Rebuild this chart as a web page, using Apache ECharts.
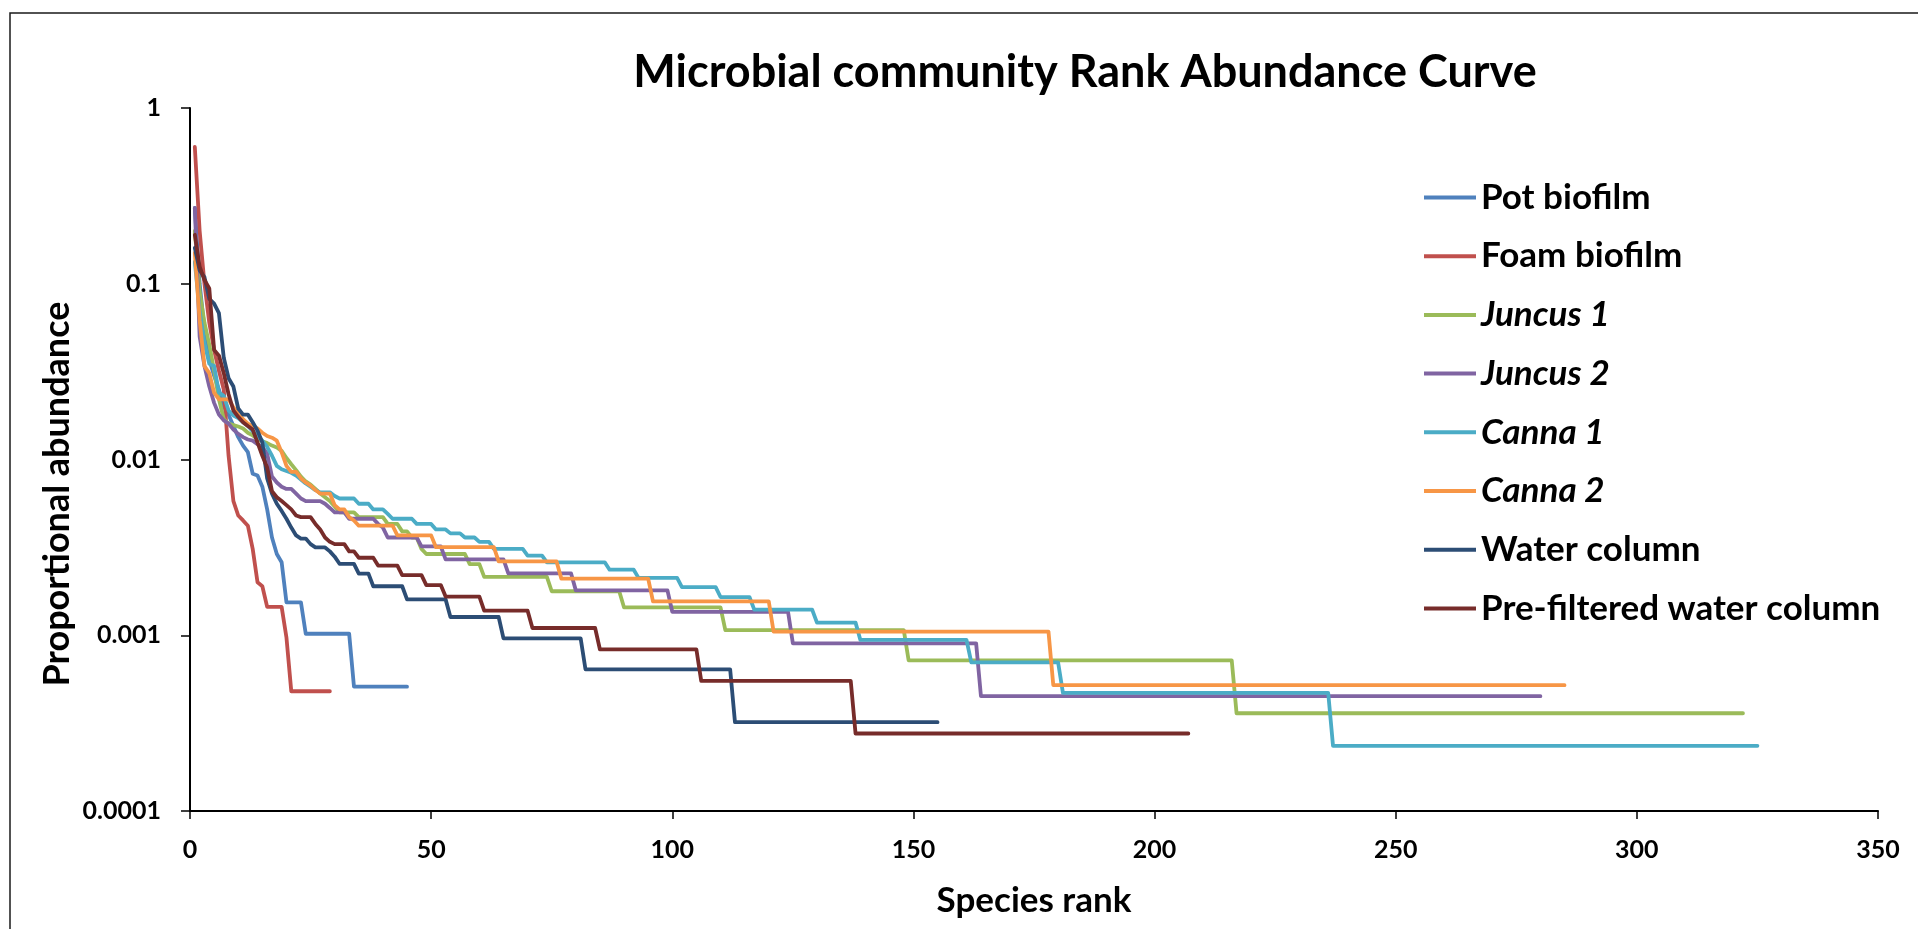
<!DOCTYPE html>
<html>
<head>
<meta charset="utf-8">
<title>Microbial community Rank Abundance Curve</title>
<script src="https://cdn.jsdelivr.net/npm/echarts@6/dist/echarts.min.js"></script>
<style>
  html, body { margin: 0; padding: 0; background: #ffffff; }
  #chart { width: 1918px; height: 929px; }
</style>
</head>
<body>
<div id="chart"></div>
<script>
// ---- Text ----
const chartTitle = 'Microbial community Rank Abundance Curve';
const xAxisTitle = 'Species rank';
const yAxisTitle = 'Proportional abundance';

// ---- Series names (taxon names are set in italics) ----
const seriesNames = [
  'Pot biofilm', 'Foam biofilm', 'Juncus 1', 'Juncus 2',
  'Canna 1', 'Canna 2', 'Water column', 'Pre-filtered water column'
];
const italicNames = ['Juncus 1', 'Juncus 2', 'Canna 1', 'Canna 2'];

// ---- Y tick labels, from 10^-4 up to 10^0 ----
const yTickLabels = ['0.0001', '0.001', '0.01', '0.1', '1'];

// ---- Rank abundance data ----
// Each entry is [last rank of a run, proportional abundance of every species in that run].
// Runs follow on from each other, starting at rank 1.
const potBiofilm = [
  [1, 0.27], [2, 0.10], [3, 0.055], [4, 0.037], [5, 0.030], [6, 0.025], [7, 0.020],
  [8, 0.018], [9, 0.0155], [10, 0.0134], [11, 0.012], [12, 0.011], [13, 0.0083],
  [14, 0.0081], [15, 0.0070], [16, 0.0052], [17, 0.0036], [18, 0.0029], [19, 0.0026],
  [23, 0.00154], [33, 0.00102], [45, 0.00051]
];
const foamBiofilm = [
  [1, 0.60], [2, 0.20], [3, 0.10], [4, 0.060], [5, 0.042], [6, 0.032], [7, 0.025],
  [8, 0.0105], [9, 0.0058], [10, 0.0048], [11, 0.0045], [12, 0.0042], [13, 0.0031],
  [14, 0.0020], [15, 0.0019], [19, 0.00145], [20, 0.00097], [29, 0.00048]
];
const juncus1 = [
  [1, 0.20], [2, 0.090], [3, 0.060], [4, 0.045], [5, 0.032], [6, 0.022], [7, 0.017],
  [8, 0.016], [9, 0.0157], [10, 0.0154], [11, 0.0150], [12, 0.0142], [13, 0.0137],
  [14, 0.0131], [15, 0.0127], [16, 0.0124], [17, 0.0120], [18, 0.0117], [19, 0.0112],
  [20, 0.0102], [21, 0.0094], [22, 0.0087], [23, 0.0080], [24, 0.0075], [25, 0.0072],
  [26, 0.0068], [27, 0.0064], [28, 0.0061], [29, 0.0058], [30, 0.0054], [34, 0.0050],
  [40, 0.0047], [43, 0.0043], [45, 0.0039], [47, 0.0036], [48, 0.0031], [57, 0.0029],
  [60, 0.00254], [74, 0.00215], [89, 0.00178], [110, 0.00144], [148, 0.00107],
  [216, 0.00072], [322, 0.00036]
];
const juncus2 = [
  [1, 0.27], [2, 0.050], [3, 0.034], [4, 0.026], [5, 0.021], [6, 0.018], [7, 0.0167],
  [8, 0.016], [9, 0.0148], [10, 0.0140], [11, 0.0134], [12, 0.0130], [13, 0.0128],
  [14, 0.0122], [15, 0.0118], [16, 0.0108], [17, 0.0080], [18, 0.0074], [19, 0.0070],
  [21, 0.0068], [22, 0.0064], [23, 0.0060], [27, 0.0058], [28, 0.0056], [29, 0.0053],
  [32, 0.0050], [38, 0.0046], [39, 0.0043], [40, 0.0041], [47, 0.0036], [52, 0.0032],
  [65, 0.0027], [79, 0.00225], [99, 0.0018], [124, 0.00136], [163, 0.00090],
  [280, 0.00045]
];
const canna1 = [
  [1, 0.133], [2, 0.070], [3, 0.046], [4, 0.035], [5, 0.034], [6, 0.024], [7, 0.023],
  [8, 0.019], [9, 0.0178], [10, 0.0172], [11, 0.0163], [12, 0.0155], [13, 0.0145],
  [14, 0.0136], [15, 0.0128], [16, 0.0118], [17, 0.0105], [18, 0.0092], [19, 0.0088],
  [20, 0.0086], [21, 0.0084], [22, 0.0081], [23, 0.0077], [24, 0.0073], [25, 0.0070],
  [26, 0.0067], [29, 0.0065], [30, 0.0062], [34, 0.0060], [37, 0.0056], [40, 0.0052],
  [41, 0.0049], [46, 0.0046], [50, 0.0043], [53, 0.0040], [56, 0.0038], [59, 0.0036],
  [62, 0.0034], [69, 0.0031], [73, 0.00284], [86, 0.0026], [92, 0.00236],
  [101, 0.00212], [109, 0.00188], [116, 0.00165], [129, 0.0014], [138, 0.00118],
  [161, 0.00094], [180, 0.00070], [236, 0.00047], [325, 0.000235]
];
const canna2 = [
  [1, 0.15], [2, 0.062], [3, 0.034], [4, 0.031], [5, 0.024], [8, 0.022], [9, 0.0198],
  [10, 0.018], [11, 0.017], [12, 0.016], [13, 0.0155], [14, 0.0150], [15, 0.0142],
  [16, 0.0136], [17, 0.0133], [18, 0.0128], [19, 0.0110], [20, 0.0092], [22, 0.0085],
  [23, 0.0078], [24, 0.0074], [25, 0.0071], [26, 0.0067], [29, 0.0064], [30, 0.0055],
  [32, 0.0052], [33, 0.0047], [34, 0.0045], [42, 0.0042], [50, 0.0037], [63, 0.00317],
  [76, 0.00263], [95, 0.0021], [120, 0.00156], [178, 0.00105], [285, 0.00052]
];
const waterColumn = [
  [1, 0.16], [2, 0.119], [3, 0.109], [4, 0.082], [5, 0.077], [6, 0.068], [7, 0.038],
  [8, 0.029], [9, 0.026], [10, 0.0195], [12, 0.018], [13, 0.0163], [14, 0.0146],
  [15, 0.0125], [16, 0.0078], [17, 0.0064], [18, 0.0056], [19, 0.0051], [20, 0.0046],
  [21, 0.0041], [22, 0.0037], [24, 0.00355], [25, 0.0033], [28, 0.00316], [29, 0.0030],
  [30, 0.0028], [34, 0.00255], [37, 0.00224], [44, 0.0019], [53, 0.0016],
  [64, 0.00127], [81, 0.00096], [112, 0.00064], [155, 0.00032]
];
const preFilteredWaterColumn = [
  [1, 0.19], [2, 0.125], [3, 0.105], [4, 0.094], [5, 0.042], [6, 0.039], [7, 0.031],
  [8, 0.0235], [9, 0.019], [10, 0.0175], [11, 0.0163], [12, 0.0155], [13, 0.0148],
  [14, 0.0125], [15, 0.0105], [16, 0.0090], [17, 0.0066], [18, 0.0061], [19, 0.0058],
  [20, 0.0055], [21, 0.0052], [22, 0.0048], [25, 0.0047], [26, 0.0043], [27, 0.0040],
  [28, 0.0036], [29, 0.0034], [32, 0.0033], [34, 0.0030], [38, 0.00276],
  [43, 0.00249], [48, 0.0022], [52, 0.00193], [60, 0.00166], [70, 0.00138],
  [84, 0.0011], [105, 0.00083], [137, 0.00055], [207, 0.000276]
];

const seriesData = [
  potBiofilm, foamBiofilm, juncus1, juncus2,
  canna1, canna2, waterColumn, preFilteredWaterColumn
];
const seriesColors = [
  '#4F81BD', '#C0504D', '#9BBB59', '#8064A2',
  '#4BACC6', '#F79646', '#2C4D75', '#772C2A'
];

// Turn the runs into one [rank, abundance] point per species.
function expandRuns(runs) {
  const points = [];
  let rank = 1;
  runs.forEach(([lastRank, value]) => {
    for (; rank <= lastRank; rank++) points.push([rank, value]);
  });
  return points;
}

const FONT = 'Lato, "Open Sans", sans-serif';
const black = '#000000';
const LEGEND_SIZE = 35;

const chart = echarts.init(document.getElementById('chart'), null, { renderer: 'canvas' });

const option = {
  animation: false,
  backgroundColor: '#ffffff',
  grid: { left: 190, right: 40, top: 108, bottom: 118, containLabel: false },
  xAxis: {
    type: 'value',
    min: 0,
    max: 350,
    interval: 50,
    axisLine: { show: true, onZero: false, lineStyle: { color: black, width: 2 } },
    axisTick: { show: true, inside: false, length: 8, lineStyle: { color: black, width: 1.5 } },
    axisLabel: {
      color: black, fontFamily: FONT, fontWeight: 'bold', fontSize: 25, margin: 26
    },
    splitLine: { show: false },
    name: xAxisTitle,
    nameLocation: 'middle',
    nameGap: 72,
    nameTextStyle: { color: black, fontFamily: FONT, fontWeight: 'bold', fontSize: 35 }
  },
  yAxis: {
    type: 'log',
    logBase: 10,
    min: 0.0001,
    max: 1,
    axisLine: { show: true, onZero: false, lineStyle: { color: black, width: 2 } },
    axisTick: { show: true, inside: false, length: 9, lineStyle: { color: black, width: 1.5 } },
    axisLabel: {
      color: black, fontFamily: FONT, fontWeight: 'bold', fontSize: 25, margin: 29,
      formatter: v => yTickLabels[Math.round(Math.log10(v)) + 4]
    },
    minorTick: { show: false },
    splitLine: { show: false }
  },
  legend: {
    orient: 'vertical',
    left: 1419,
    top: 175,
    icon: 'rect',
    itemWidth: 52,
    itemHeight: 4,
    itemGap: 23.7,
    selectedMode: false,
    data: seriesNames,
    formatter: name => (italicNames.includes(name) ? '{it|' + name + '}' : '{n|' + name + '}'),
    textStyle: {
      color: black,
      fontFamily: FONT,
      fontSize: LEGEND_SIZE,
      fontWeight: 'bold',
      rich: {
        n: { color: black, fontFamily: FONT, fontSize: LEGEND_SIZE, fontWeight: 'bold' },
        it: { color: black, fontFamily: FONT, fontSize: LEGEND_SIZE, fontWeight: 'bold', fontStyle: 'italic' }
      }
    }
  },
  graphic: [
    {
      // chart-area frame
      type: 'rect',
      silent: true,
      shape: { x: 10, y: 13, width: 1930, height: 940 },
      style: { fill: 'none', stroke: '#1a1a1a', lineWidth: 1.5 }
    },
    {
      type: 'text',
      silent: true,
      style: {
        text: chartTitle, x: 1085, y: 72, align: 'center', verticalAlign: 'middle',
        fontFamily: FONT, fontWeight: 'bold', fontSize: 45, fill: black
      }
    },
    {
      type: 'text',
      silent: true,
      x: 57, y: 494,
      rotation: Math.PI / 2,
      style: {
        text: yAxisTitle, x: 0, y: 0, align: 'center', verticalAlign: 'middle',
        fontFamily: FONT, fontWeight: 'bold', fontSize: 36, fill: black
      }
    }
  ],
  series: seriesNames.map((name, i) => ({
    name: name,
    type: 'line',
    data: expandRuns(seriesData[i]),
    symbol: 'none',
    showSymbol: false,
    smooth: false,
    silent: true,
    color: seriesColors[i],
    itemStyle: { color: seriesColors[i] },
    lineStyle: { color: seriesColors[i], width: 3.8, cap: 'round', join: 'round' },
    emphasis: { disabled: true }
  }))
};

chart.setOption(option);
</script>
</body>
</html>
